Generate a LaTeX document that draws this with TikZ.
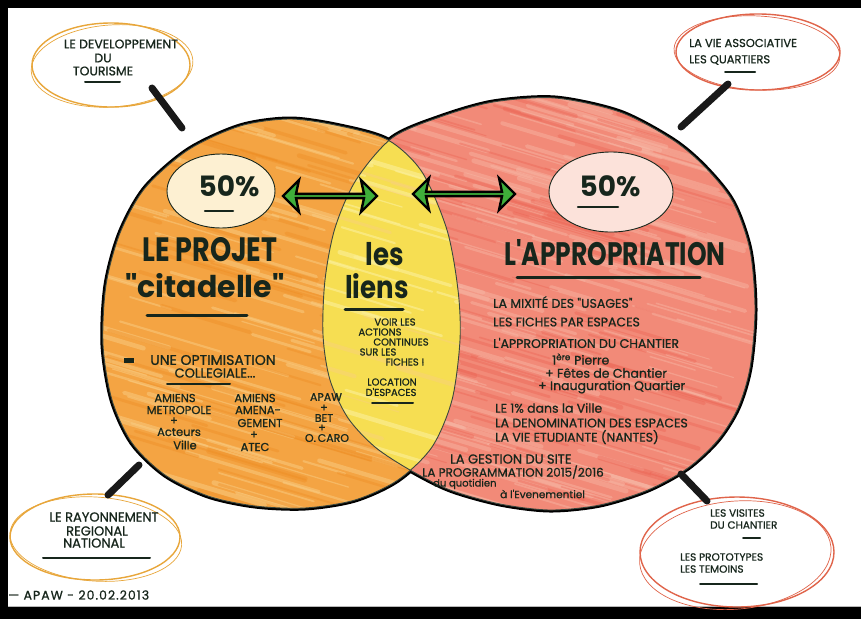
\documentclass[tikz,border=0pt]{standalone}
\usepackage{fontspec}
\usepackage{graphicx}
\newfontfamily\hand{Poppins}[FakeBold=0.9]
\newfontfamily\handb{Poppins}
\usetikzlibrary{shapes.geometric,shapes.arrows}
\definecolor{ink}{HTML}{17261C}
\definecolor{orangeF}{HTML}{F4A443}
\definecolor{orangeL}{HTML}{F9CD84}
\definecolor{orangeD}{HTML}{EE8A1E}
\definecolor{redF}{HTML}{F28A78}
\definecolor{redL}{HTML}{F7B8A6}
\definecolor{redD}{HTML}{EC5E4E}
\definecolor{yellowF}{HTML}{F6DE52}
\definecolor{yellowL}{HTML}{FBF09A}
\definecolor{bubO}{HTML}{E8A63A}
\definecolor{bubR}{HTML}{E0644A}
\definecolor{arrowG}{HTML}{3FAE3A}
\definecolor{creamF}{HTML}{FDF0D2}
\definecolor{pinkF}{HTML}{FCE2DA}
\newcommand\LeftPlot{plot[smooth cycle] coordinates {(388,140) (422,172) (447,230) (458,290) (460,340) (452,400) (432,447) (398,480) (355,500) (305,508) (255,506) (208,496) (165,475) (132,443) (112,400) (103,345) (106,285) (120,233) (145,188) (188,150) (240,126) (290,119) (340,126)}}
\newcommand\RightPlot{plot[smooth cycle] coordinates {(392,138) (440,117) (493,102) (555,98) (620,112) (673,140) (705,167) (733,202) (750,250) (755,310) (750,368) (738,408) (718,440) (688,468) (648,490) (600,505) (550,510) (500,504) (450,490) (410,470) (375,447) (348,418) (330,380) (323,335) (325,280) (335,228) (356,180)}}
\newcommand\mystreaks[5]{% color, opacity, count, seed, xmin
  \pgfmathsetseed{#4}
  \foreach \k in {1,...,#3}{
    \pgfmathsetmacro\yy{40+rnd*520}
    \pgfmathsetmacro\xa{#5+rnd*420}
    \pgfmathsetmacro\ww{1+rnd*4}
    \pgfmathsetmacro\dx{40+rnd*110}
    \draw[#1, line width=\ww pt, opacity=#2, line cap=round] (\xa,\yy) -- ++(\dx,0.3*\dx);
  }}
\tikzset{
  tx/.style={text=ink, inner sep=0pt, font=\hand\fontsize{#1}{#1}\selectfont},
  txb/.style={text=ink, inner sep=0pt, font=\handb\bfseries\fontsize{#1}{#1}\selectfont},
  ul/.style={draw=ink, line width=#1, line cap=round},
  ul/.default=2pt,
  bubble/.style={ellipse, draw=#1, line width=1.4pt, inner sep=0pt},
  conn/.style={line width=7pt, draw=black!90, line cap=round},
  twoway/.style={double arrow, draw=black, line width=2.4pt, fill=arrowG, minimum height=#1, minimum width=32pt, double arrow head extend=8pt, double arrow head indent=3pt, inner sep=0pt},
  pct/.style={ellipse, draw=ink, line width=0.9pt, inner sep=0pt}
}
\begin{document}
\begin{tikzpicture}[x=1pt,y=-1pt]
\useasboundingbox (0,0) rectangle (861,619);
\fill[black] (0,0) rectangle (861,619);
\fill[white] (8,8) rectangle (861,606);
\draw[gray!55, line width=1.5pt] (8,606.5) -- (861,606.5);

% circles
\draw[line width=5pt, black] \LeftPlot;
\draw[line width=5pt, black] \RightPlot;
\fill[orangeF] \LeftPlot;
\begin{scope}
  \clip \LeftPlot;
  \mystreaks{orangeL}{0.5}{200}{3}{20}
  \mystreaks{orangeD}{0.35}{100}{5}{20}
\end{scope}
\fill[redF] \RightPlot;
\begin{scope}
  \clip \RightPlot;
  \mystreaks{redL}{0.45}{260}{7}{250}
  \mystreaks{redD}{0.35}{140}{11}{250}
\end{scope}
\begin{scope}
  \clip \LeftPlot;
  \clip \RightPlot;
  \fill[yellowF] (300,100) rectangle (480,520);
  \mystreaks{yellowL}{0.6}{120}{13}{250}
  \mystreaks{orangeL}{0.4}{40}{17}{250}
\end{scope}
\draw[line width=0.9pt, ink!85] \LeftPlot;
\draw[line width=0.9pt, ink!85] \RightPlot;

% percent ellipses
\node[pct, fill=creamF, minimum width=108pt, minimum height=74pt] (pctL) at (221,191) {};
\node[txb=28] (pctLt) at (229,186) {50\%};
\draw[ul=2.5pt] (205,211) -- (233,211);
\node[pct, fill=pinkF, minimum width=124pt, minimum height=80pt] (pctR) at (611,192) {};
\node[txb=28] (pctRt) at (610,186) {50\%};
\draw[ul=2.5pt] (578,207) -- (618,207);

% arrows
\node[twoway=94pt] (arrL) at (330,196) {};
\node[twoway=102pt] (arrR) at (464,194) {};

% left titles
\node[txb=27] (projet) at (210,250) {\scalebox{1}[1.25]{LE PROJET}};
\node[txb=30] (citadelle) at (205,286) {"citadelle"};
\draw[ul=3pt] (147,315) -- (247,315);

% left body
\fill[ink] (124,358) rectangle (134,363);
\node[tx=14] (optim) at (213,360) {UNE OPTIMISATION};
\node[tx=13] (colleg) at (215,373) {COLLEGIALE...};
\draw[ul] (167,384) -- (230,384);
\node[tx=11.5] (c1a) at (175,398) {AMIENS};
\node[tx=11.5] (c1b) at (179,410) {METROPOLE};
\node[tx=11.5] (c1c) at (174,421) {+};
\node[tx=11.5] (c1d) at (179,432) {Acteurs};
\node[tx=11.5] (c1e) at (185,445) {Ville};
\node[tx=11.5] (c2a) at (255,398) {AMIENS};
\node[tx=11.5] (c2b) at (258,410) {AMENA-};
\node[tx=11.5] (c2c) at (260,423) {GEMENT};
\node[tx=11.5] (c2d) at (254,435) {+};
\node[tx=11.5] (c2e) at (255,447) {ATEC};
\node[tx=11] (c3a) at (326,397) {APAW};
\node[tx=11] (c3b) at (324,408) {+};
\node[tx=11] (c3c) at (324,418) {BET};
\node[tx=11] (c3d) at (322,428) {+};
\node[tx=11] (c3e) at (327,438) {O.\,CARO};

% lens
\node[txb=26] (les) at (385,254) {\scalebox{1}[1.2]{les}};
\node[txb=26] (liens) at (377,286) {\scalebox{1}[1.2]{liens}};
\draw[ul=3pt] (345,309) -- (403,309);
\node[tx=10] (l1) at (395,322) {VOIR LES};
\node[tx=10] (l2) at (380,332) {ACTIONS};
\node[tx=10] (l3) at (401,342) {CONTINUES};
\node[tx=10] (l4) at (378,352) {SUR LES};
\node[tx=10] (l5) at (405,362) {FICHES !};
\node[tx=10] (l6) at (392,382) {LOCATION};
\node[tx=10] (l7) at (391,392) {D'ESPACES};
\draw[ul] (372,403) -- (413,403);

% right titles
\node[txb=25] (approp) at (615,253) {\scalebox{1}[1.3]{L'APPROPRIATION}};
\draw[ul=3pt] (517,277) -- (700,277);

% right body
\node[tx=12.5, anchor=west] (r1) at (493,302) {LA MIXITÉ DES "USAGES"};
\node[tx=12.5, anchor=west] (r2) at (493,322) {LES FICHES PAR ESPACES};
\node[tx=12.5, anchor=west] (r3) at (493,343) {L'APPROPRIATION DU CHANTIER};
\node[tx=12.5, anchor=west] (r4) at (552,359) {1\textsuperscript{ère} Pierre};
\node[tx=12.5, anchor=west] (r5) at (545,373) {+ Fêtes de Chantier};
\node[tx=12.5, anchor=west] (r6) at (538,387) {+ Inauguration Quartier};
\node[tx=12.5, anchor=west] (r7) at (495,408) {LE 1\% dans la Ville};
\node[tx=12.5, anchor=west] (r8) at (495,423) {LA DENOMINATION DES ESPACES};
\node[tx=12.5, anchor=west] (r9) at (495,437) {LA VIE ETUDIANTE (NANTES)};
\node[tx=13, anchor=west] (r10) at (450,459) {LA GESTION DU SITE};
\node[tx=12, anchor=west] (r11) at (422,472) {LA PROGRAMMATION 2015/2016};
\node[tx=10, anchor=west] (r12) at (433,484) {du quotidien};
\node[tx=10.5, anchor=west] (r13) at (500,494) {à l'Evenementiel};

% bubbles
\node[bubble=bubO, minimum width=158pt, minimum height=84pt] (tourisme) at (111,65) {};
\draw[bubO, line width=0.7pt, rotate around={4:(111,65)}] (112,66) ellipse [x radius=81, y radius=41];
\node[tx=12.5] (b1a) at (121,44) {LE DEVELOPPEMENT};
\node[tx=12.5] (b1b) at (103,58) {DU};
\node[tx=12.5] (b1c) at (103,71) {TOURISME};
\draw[ul] (85,82) -- (120,82);

\node[bubble=bubR, minimum width=164pt, minimum height=76pt] (associ) at (758,52) {};
\draw[bubR, line width=0.7pt, rotate around={-3:(758,52)}] (757,53) ellipse [x radius=83, y radius=37];
\node[tx=11.5, anchor=west] (b2a) at (689,43) {LA VIE ASSOCIATIVE};
\node[tx=11.5, anchor=west] (b2b) at (689,60) {LES QUARTIERS};
\draw[ul] (725,72) -- (755,72);

\node[bubble=bubO, minimum width=170pt, minimum height=86pt] (rayon) at (95,537) {};
\draw[bubO, line width=0.7pt, rotate around={-4:(95,537)}] (96,539) ellipse [x radius=86, y radius=42];
\node[tx=13] (b3a) at (104,517) {LE RAYONNEMENT};
\node[tx=13] (b3b) at (97,531) {REGIONAL};
\node[tx=13] (b3c) at (94,543) {NATIONAL};
\draw[ul] (43,558) -- (150,558);
\node[tx=12.5, anchor=west] (footer) at (8,595) {\addfontfeature{LetterSpace=8}— APAW - 20.02.2013};

\node[bubble=bubR, minimum width=194pt, minimum height=110pt] (visites) at (737,552) {};
\draw[bubR, line width=0.7pt, rotate around={5:(737,552)}] (735,555) ellipse [x radius=96, y radius=54];
\node[tx=10.5, anchor=west] (b4a) at (710,513) {LES VISITES};
\node[tx=10.5, anchor=west] (b4b) at (710,525) {DU CHANTIER};
\draw[ul] (743,538) -- (760,538);
\node[tx=10.5, anchor=west] (b4c) at (680,557) {LES PROTOTYPES};
\node[tx=10.5, anchor=west] (b4d) at (680,569) {LES TEMOINS};
\draw[ul] (700,584) -- (757,584);

% connectors
\coordinate (c1s) at (152,88);  \coordinate (c1e) at (182,128);
\coordinate (c2s) at (728,84);  \coordinate (c2e) at (681,127);
\coordinate (c3s) at (139,465); \coordinate (c3e) at (108,495);
\coordinate (c4s) at (681,474); \coordinate (c4e) at (707,501);
\draw[conn] (c1s) -- (c1e);
\draw[conn] (c2s) -- (c2e);
\draw[conn] (c3s) -- (c3e);
\draw[conn] (c4s) -- (c4e);
\end{tikzpicture}
\end{document}
